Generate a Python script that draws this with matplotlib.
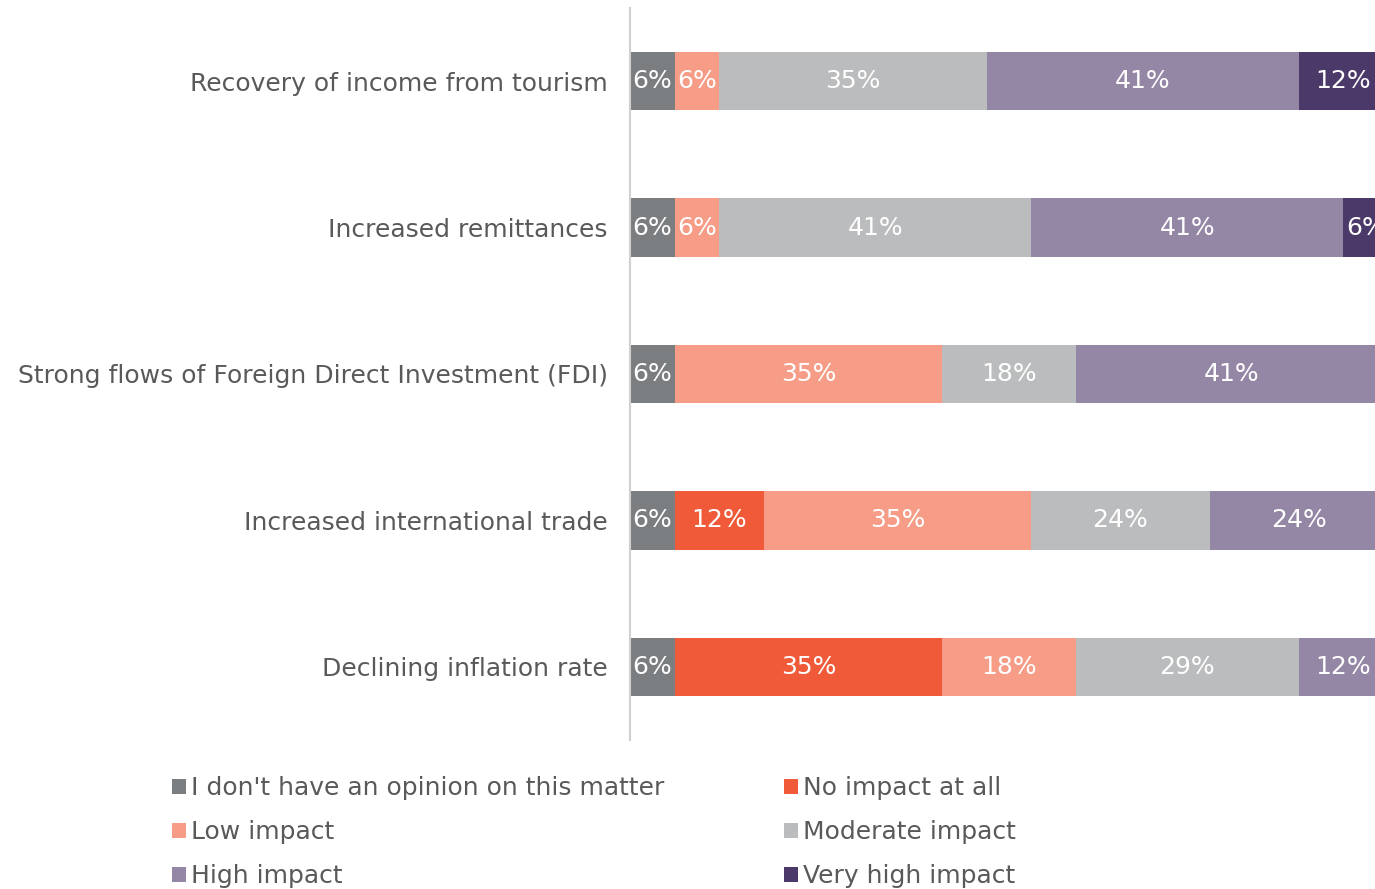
import matplotlib
matplotlib.use("Agg")
import matplotlib.pyplot as plt
from matplotlib.patches import Patch

plt.rcParams["font.family"] = ["DejaVu Sans"]

categories = ["Recovery of income from tourism", "Increased remittances",
              "Strong flows of Foreign Direct Investment (FDI)",
              "Increased international trade", "Declining inflation rate"]
series_names = ["I don't have an opinion on this matter", "No impact at all",
                "Low impact", "Moderate impact", "High impact", "Very high impact"]
no_opinion = [5.88, 5.88, 5.88, 5.88, 5.88]
no_impact = [0, 0, 0, 11.76, 35.29]
low_impact = [5.88, 5.88, 35.29, 35.29, 17.65]
moderate_impact = [35.29, 41.18, 17.65, 23.53, 29.41]
high_impact = [41.18, 41.18, 41.18, 23.53, 11.76]
very_high_impact = [11.76, 5.88, 0, 0, 0]
colors = ["#7a7e81", "#f05a38", "#f69c87", "#bbbcbd", "#9387a5", "#4b3a69"]

series = [no_opinion, no_impact, low_impact, moderate_impact, high_impact, very_high_impact]

W, H = 1375, 889
fs = 18
fig = plt.figure(figsize=(W/100, H/100), dpi=100)
ax = fig.add_axes([630/W, 1 - 740/H, 758/W, 732/H])
ax.set_xlim(0, 100)
ax.set_ylim(len(categories) - 0.5, -0.5)

y = list(range(len(categories)))
left = [0.0] * len(categories)
for vals, col in zip(series, colors):
    ax.barh(y, vals, left=left, height=0.4, color=col, edgecolor="none")
    for i, v in enumerate(vals):
        if v > 0:
            ax.text(left[i] + v / 2, i, f"{round(v)}%", ha="center", va="center",
                    color="white", fontsize=fs)
    left = [l + v for l, v in zip(left, vals)]

ax.set_yticks(y)
ax.set_yticklabels(categories, fontsize=fs, color="#595959")
ax.tick_params(axis="y", length=0, pad=16)
ax.set_xticks([])
for s in ["top", "right", "bottom"]:
    ax.spines[s].set_visible(False)
ax.spines["left"].set_color("#d0d0d0")
ax.spines["left"].set_linewidth(1.5)

handles = [Patch(facecolor=c, edgecolor="none") for c in colors]
order = [0, 2, 4, 1, 3, 5]
leg = fig.legend([handles[i] for i in order], [series_names[i] for i in order],
                 ncol=2, loc="upper left", bbox_to_anchor=(172/W, 1 - 776/H),
                 frameon=False, fontsize=fs, handlelength=0.55, handleheight=0.55,
                 handletextpad=0.2, columnspacing=4.8, labelspacing=0.8,
                 borderaxespad=0, borderpad=0)
for t in leg.get_texts():
    t.set_color("#595959")

fig.savefig("out.png", dpi=100)
